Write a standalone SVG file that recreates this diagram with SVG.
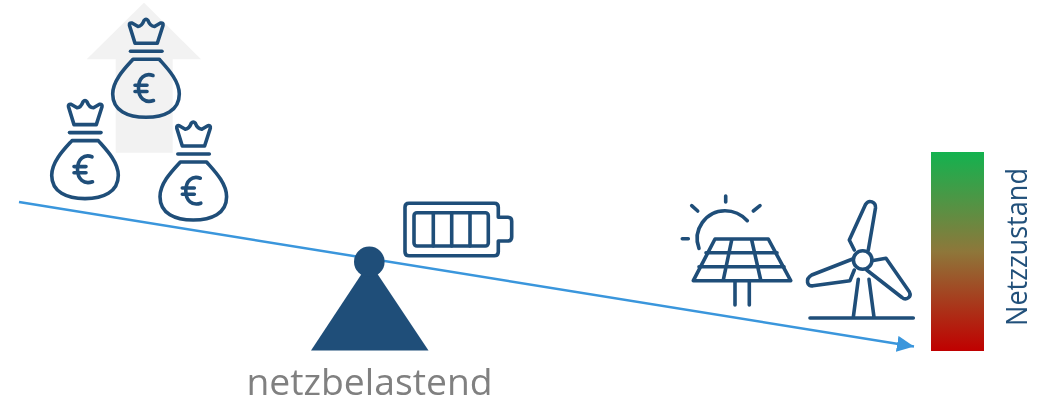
<svg xmlns="http://www.w3.org/2000/svg" width="1043" height="404" viewBox="0 0 1043 404">
<style>
.i{fill:none;stroke:#1f4e79;stroke-width:3.600;stroke-linecap:round;stroke-linejoin:round}
.t{font-family:"Open Sans","Noto Sans","Liberation Sans",sans-serif}
</style>
<defs>
<linearGradient id="g" x1="0" y1="0" x2="0" y2="1"><stop offset="0" stop-color="#13b24f"/><stop offset=".5" stop-color="#8e773a"/><stop offset="1" stop-color="#c00000"/></linearGradient>
<marker id="a" markerUnits="userSpaceOnUse" markerWidth="20" markerHeight="18" refX="17" refY="8" orient="auto"><path d="M0 0L17 8L0 16Z" fill="#3a96dc"/></marker>
<g id="bag" class="i">
<path d="M135 43.300L129.500 25.500Q129 22.500 132 23L138 26.500Q142 26 144 20.500Q146 18 148 20.500Q150 26 154.500 26.500L160.500 23Q163.500 22.500 163 25.500L157.300 43.300Z"/>
<path d="M130.500 51.300H162"/>
<path d="M133 59.300H159.300C166 67 179.300 80 179.300 94C179.300 111 164 117.300 146 117.300C128 117.300 112.700 111 112.700 94C112.700 80 126 67 133 59.300Z"/>
<path d="M153 75.500C145 72.500 138.500 78 138.500 88C138.500 98 145 103.500 153.500 100.500M135 85.300H147M135 91.500H147"/>
</g>
</defs>
<g id="up-arrow"><path d="M144 2.700L201 59.300H172.700V152.700H115.700V59.300H86.700Z" fill="#f2f2f2"/></g>
<g id="connectors"><path d="M19 202L914 346.500" fill="none" stroke="#3a96dc" stroke-width="2.500" marker-end="url(#a)"/></g>
<g id="money-bags">
<use href="#bag"/>
<use href="#bag" x="-61" y="81.300"/>
<use href="#bag" x="47.300" y="102.700"/>
</g>
<g id="fulcrum" fill="#1f4e79"><path d="M369.500 262L428.500 350.500H311Z"/><circle cx="369.300" cy="261.700" r="15.300"/></g>
<g id="battery" class="i">
<path d="M498.300 207.300Q498.300 203.300 494.300 203.300H409Q405 203.300 405 207.300V251.700Q405 255.700 409 255.700H494.300Q498.300 255.700 498.300 251.700V241H507.700Q511.700 241 511.700 237V221.300Q511.700 217.300 507.700 217.300H498.300Z"/>
<rect x="414" y="212.700" width="74.300" height="33.300" rx="3"/>
<path d="M433.300 213V246M451.700 213V246M470 213V246"/>
</g>
<g id="solar" class="i">
<path d="M715 239H768.300L790.700 280.700H693.300Z"/>
<path d="M706 252.700H777M699 266.700H784M731.700 240L723.300 280M751.700 240L760.700 280M735 281V305M749.300 281V305"/>
<path d="M699 248.300C692 230 706 210.700 725 210.700C734 210.700 742 215 747.300 220.700"/>
<path d="M725.700 196V202M691.700 205.700L697.700 211M760 205.700L753.300 211M682.300 238.700H688.300"/>
</g>
<g id="wind" class="i">
<circle cx="862.700" cy="260" r="9.300"/>
<path d="M868.300 250L875.500 208C876 202 869 199 865.500 204.500L849.300 240L854.300 250"/>
<path d="M852.700 259L811.700 275C805 279 807 287 813 285.700L850 280.700L854.300 270"/>
<path d="M871.700 260.700L886 258.300L909.300 291.700C912 297 906 301 902 297.500L866.700 270"/>
<path d="M858.300 279.300L853.300 317.300M869 279.300L874 317.300M810 318H913.300"/>
</g>
<g id="state-bar"><rect x="931" y="152" width="53" height="199" fill="url(#g)"/></g>
<g id="labels" opacity=".99">
<text class="t" x="369.500" y="394.500" font-size="37.300" fill="#7f7f7f" text-anchor="middle">netzbelastend</text>
<text class="t" transform="translate(1027 247) rotate(-90)" font-size="30" fill="#1f4e79" text-anchor="middle" textLength="158" lengthAdjust="spacingAndGlyphs">Netzzustand</text>
</g>
</svg>
